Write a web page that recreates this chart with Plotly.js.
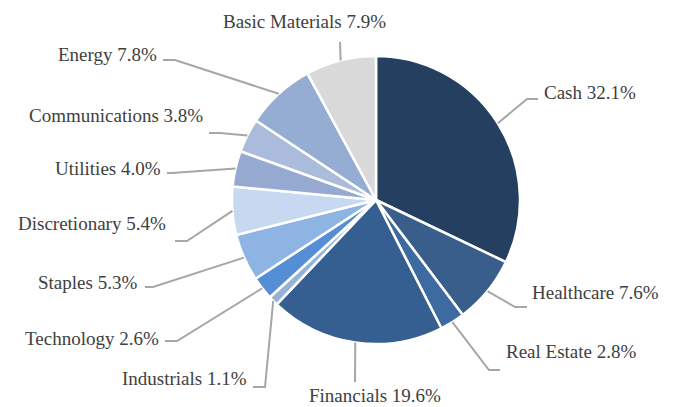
<!DOCTYPE html>
<html>
<head>
<meta charset="utf-8">
<script src="https://cdn.plot.ly/plotly-3.0.1.min.js"></script>
<style>html,body{margin:0;padding:0;background:#fff;}#chart{width:676px;height:407px;}</style>
</head>
<body>
<div id="chart"></div>
<script>
// ---- data ----
var sectors = ["Cash","Healthcare","Real Estate","Financials","Industrials","Technology","Staples","Discretionary","Utilities","Communications","Energy","Basic Materials"];
var weights = [32.1, 7.6, 2.8, 19.6, 1.1, 2.6, 5.3, 5.4, 4.0, 3.8, 7.8, 7.9];
var colors = ["#253F61","#3A5E8C","#3D6BA1","#365F91","#95B3D7","#558ED5","#8EB4E3","#C6D9F1","#95A9D1","#ABBBDB","#95ACD3","#D9D9D9"];

// ---- layout (pixels) ----
var W = 676, H = 407;
var CX = 376, CY = 200, R = 144;
// leader elbow, leader end, label anchor
var elbowX = [527, 515, 489, 355, 265, 177, 153, 187, 172, 220, 175, 340];
var elbowY = [ 99, 307, 370, 382, 387, 341, 287, 241, 173, 133,  60,  42];
var endX   = [538, 527, 500, 355, 253, 165, 145, 175, 167, 209, 163, 340];
var textX  = [543, 531, 505, 375, 248, 160, 138, 167, 162, 204, 158, 304];
var textY  = [ 93, 292, 351, 395, 378, 338, 282, 223, 168, 115,  55,  21];
var textAnchor = ["left","left","left","center","right","right","right","right","right","right","right","center"];

function px(x){ return x / W; }
function py(y){ return 1 - y / H; }

var total = weights.reduce(function(a,b){return a+b;},0);
var shapes = [], annotations = [];
var cum = 0;
for (var i = 0; i < weights.length; i++) {
  var mid = (cum + weights[i] / 2) / total * 2 * Math.PI;
  cum += weights[i];
  var sx = CX + R * Math.sin(mid), sy = CY - R * Math.cos(mid);
  shapes.push({
    type: "path", xref: "paper", yref: "paper",
    path: "M " + px(sx) + " " + py(sy) + " L " + px(elbowX[i]) + " " + py(elbowY[i]) + " L " + px(endX[i]) + " " + py(elbowY[i]),
    line: {color: "#A6A6A6", width: 2}
  });
  annotations.push({
    xref: "paper", yref: "paper", x: px(textX[i]), y: py(textY[i]),
    xanchor: textAnchor[i], yanchor: "middle", showarrow: false,
    borderpad: 0,
    text: sectors[i] + " " + weights[i].toFixed(1) + "%",
    font: {family: "Liberation Serif, serif", size: 19, color: "#404040"}
  });
}

var trace = {
  type: "pie",
  labels: sectors,
  values: weights,
  sort: false,
  direction: "clockwise",
  rotation: 0,
  textinfo: "none",
  hoverinfo: "label+percent",
  marker: {colors: colors, line: {color: "#FFFFFF", width: 2.5}},
  domain: {x: [(CX - R) / W, (CX + R) / W], y: [(H - CY - R) / H, (H - CY + R) / H]},
  showlegend: false
};

var layout = {
  width: W, height: H,
  margin: {l: 0, r: 0, t: 0, b: 0},
  paper_bgcolor: "#FFFFFF",
  showlegend: false,
  shapes: shapes,
  annotations: annotations
};

Plotly.newPlot("chart", [trace], layout, {displayModeBar: false, staticPlot: true});
</script>
</body>
</html>
